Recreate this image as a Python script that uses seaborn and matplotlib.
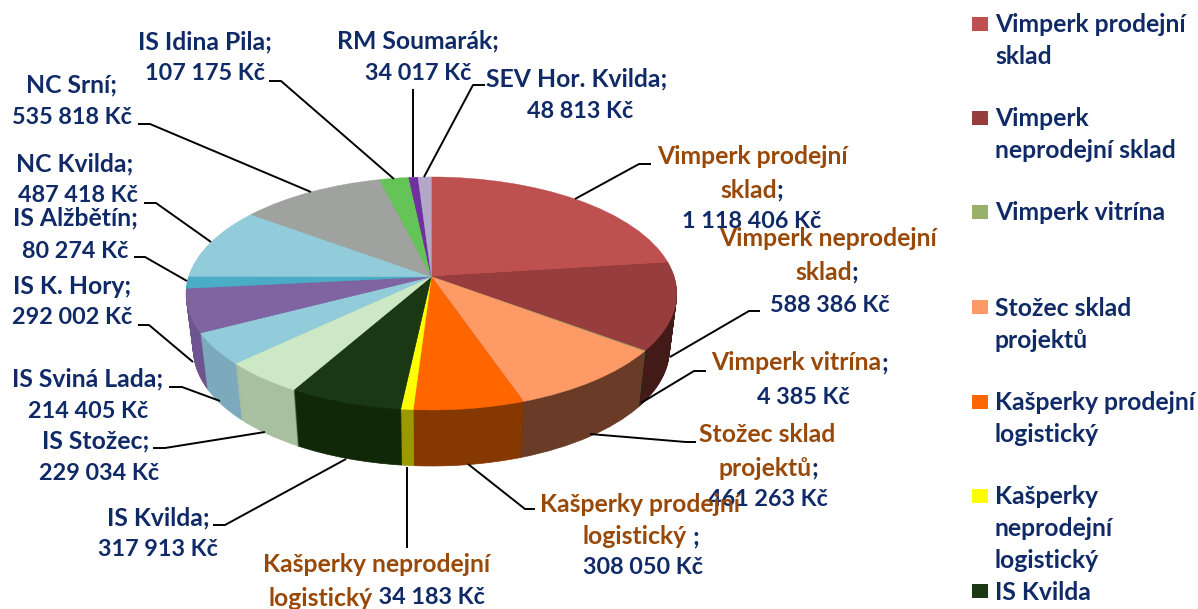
import matplotlib
matplotlib.use('Agg')
import matplotlib.pyplot as plt
import matplotlib.patches as mpatches
from matplotlib.transforms import Transform, Affine2D
import seaborn as sns

sns.set_style('white')
plt.rcParams['font.family'] = ['Lato', 'DejaVu Sans']
plt.rcParams['font.weight'] = 'bold'

names = ['Vimperk prodejní sklad', 'Vimperk neprodejní sklad', 'Vimperk vitrína',
         'Stožec sklad projektů', 'Kašperky prodejní logistický',
         'Kašperky neprodejní logistický', 'IS Kvilda', 'IS Stožec', 'IS Sviná Lada',
         'IS K. Hory', 'IS Alžbětín', 'NC Kvilda', 'NC Srní', 'IS Idina Pila',
         'RM Soumarák', 'SEV Hor. Kvilda']
values = [1118406, 588386, 4385, 461263, 308050, 34183, 317913, 229034, 214405,
          292002, 80274, 487418, 535818, 107175, 34017, 48813]
top_colors = ['#BE504F', '#983D3D', '#98B06A', '#FD9A65', '#FF6600', '#FFFF00', '#1A3813',
              '#CCE8C5', '#92CBD9', '#8064A2', '#4BACC6', '#92CBD9', '#9FA29E', '#65C458',
              '#7030A0', '#B3A8C8']
side_colors = ['#4A1E1D', '#421A18', '#4A5A30', '#6A3C28', '#853800', '#9C9900', '#102708',
               '#A8BFA0', '#7CAABC', '#6E5590', '#3A8CA0', '#7CAABC', '#85887F', '#4FA040',
               '#5A2580', '#9A90B0']

legend_entries = [(['Vimperk prodejní', 'sklad'], 23), (['Vimperk', 'neprodejní sklad'], 117),
                  (['Vimperk vitrína'], 211), (['Stožec sklad', 'projektů'], 306),
                  (['Kašperky prodejní', 'logistický'], 401),
                  (['Kašperky', 'neprodejní', 'logistický'], 495), (['IS Kvilda'], 590)]
legend_colors = top_colors[:7]

NAVY = '#0F2A66'
BROWN = '#984807'
FS = 17.8
FS_NUM = 16.8


def kc(i):
    return f'{values[i]:,}'.replace(',', ' ') + ' Kč'


# each label: list of (center x, center y, [(text, colour), ...])
labels = [
    [(752, 155, [('Vimperk prodejní', BROWN)]), (752, 188, [('sklad', BROWN), (';', NAVY)]), (752, 220, [(kc(0), NAVY)])],
    [(800, 361, [('Vimperk vitrína', BROWN), (';', NAVY)]), (803, 395, [(kc(2), NAVY)])],
    [(767, 433, [('Stožec sklad', BROWN)]), (768, 466, [('projektů', BROWN), (';', NAVY)]), (768, 498, [(kc(3), NAVY)])],
    [(640, 502, [('Kašperky prodejní', BROWN)]), (641, 535, [('logistický', BROWN), (' ;', NAVY)]), (643, 566, [(kc(4), NAVY)])],
    [(828, 237, [('Vimperk neprodejní', BROWN)]), (827, 270, [('sklad', BROWN), (';', NAVY)]), (830, 303, [(kc(1), NAVY)])],
    [(377, 563, [('Kašperky neprodejní', BROWN)]), (377, 596, [('logistický', BROWN), (' ' + kc(5), NAVY)])],
    [(158, 516, [('IS Kvilda;', NAVY)]), (158, 548, [(kc(6), NAVY)])],
    [(96, 439, [('IS Stožec;', NAVY)]), (99, 472, [(kc(7), NAVY)])],
    [(88, 377, [('IS Sviná Lada;', NAVY)]), (88, 410, [(kc(8), NAVY)])],
    [(72, 285, [('IS K. Hory;', NAVY)]), (72, 316, [(kc(9), NAVY)])],
    [(75, 162, [('NC Kvilda;', NAVY)]), (78, 194, [(kc(11), NAVY)])],
    [(75, 216, [('IS Alžbětín;', NAVY)]), (75, 249, [(kc(10), NAVY)])],
    [(72, 83, [('NC Srní;', NAVY)]), (72, 116, [(kc(12), NAVY)])],
    [(205, 40, [('IS Idina Pila;', NAVY)]), (205, 71, [(kc(13), NAVY)])],
    [(418, 39, [('RM Soumarák;', NAVY)]), (418, 72, [(kc(14), NAVY)])],
    [(577, 77, [('SEV Hor. Kvilda;', NAVY)]), (580, 109, [(kc(15), NAVY)])],
]

leaders = [
    [(575, 199), (639, 164), (651, 164)],
    [(670, 357), (749, 311), (760, 311)],
    [(641, 403), (694, 371), (706, 371)],
    [(590, 434), (686, 442), (696, 442)],
    [(468, 464), (525, 509), (535, 509)],
    [(407, 467), (407, 548)],
    [(346, 459), (225, 525), (213, 525)],
    [(265, 432), (165, 448), (153, 448)],
    [(220, 401), (182, 387), (169, 387)],
    [(193, 362), (149, 325), (138, 325)],
    [(187, 281), (145, 257), (134, 257)],
    [(211, 242), (156, 203), (144, 203)],
    [(311, 192), (150, 124), (138, 124)],
    [(394, 179), (281, 81), (269, 81)],
    [(413, 177), (413, 89)],
    [(424, 177), (473, 85), (485, 85)],
]


class Persp(Transform):
    # tilted disc: the far side shrinks, the near side grows
    input_dims = output_dims = 2
    is_affine = False

    def __init__(self, k):
        super().__init__()
        self.k = k

    def transform_non_affine(self, xy):
        return xy / (1 + self.k * xy[:, 1:2])


CX, CY = 431.4, 276.7
RX, RY = 242.8, 114.1
K = 0.144
DEPTH = 56

fig, ax = plt.subplots(figsize=(11.98, 6.09), dpi=100)
fig.subplots_adjust(0, 0, 1, 1)

# side of the pie: stacked discs, darker colours, from the bottom up
for d in range(DEPTH, 0, -1):
    shrink = 1 - 0.03 * d / DEPTH
    trans = Persp(K) + Affine2D().scale(RX * shrink, -RY).translate(CX, CY + d) + ax.transData
    wedges, _ = ax.pie(values, colors=side_colors, startangle=90, counterclock=False,
                       wedgeprops={'linewidth': 0.5, 'antialiased': True})
    for w, c in zip(wedges, side_colors):
        w.set_edgecolor(c)
        w.set_transform(trans)

trans = Persp(K) + Affine2D().scale(RX, -RY).translate(CX, CY) + ax.transData
wedges, _ = ax.pie(values, colors=top_colors, startangle=90, counterclock=False,
                   wedgeprops={'linewidth': 0.3})
for w, c in zip(wedges, top_colors):
    w.set_edgecolor(c)
    w.set_transform(trans)

ax.set_aspect('auto')
ax.set_xlim(0, 1198)
ax.set_ylim(609, 0)
ax.axis('off')

for pts in leaders:
    ax.plot([p[0] for p in pts], [p[1] for p in pts], color='black', lw=1.4,
            solid_capstyle='butt', zorder=5)

fig.canvas.draw()
rend = fig.canvas.get_renderer()


def put_line(xc, y, parts):
    # several colours on one line: measure, then place side by side
    txts = [ax.text(0, y, s, color=c, fontsize=FS_NUM if 'Kč' in s else FS,
                    va='center_baseline', ha='left', zorder=6)
            for s, c in parts]
    widths = [t.get_window_extent(rend).width for t in txts]
    x = xc - sum(widths) / 2
    for t, wd in zip(txts, widths):
        t.set_x(x)
        x += wd


for lab in labels:
    for xc, y, parts in lab:
        put_line(xc, y, parts)

for (lines, y0), c in zip(legend_entries, legend_colors):
    ax.add_patch(mpatches.Rectangle((972, y0 - 6), 16, 14, facecolor=c, edgecolor='none'))
    for j, s in enumerate(lines):
        ax.text(995, y0 + j * 32, s, color=NAVY, fontsize=FS, va='center_baseline', ha='left')

fig.savefig('out.png', dpi=100)
